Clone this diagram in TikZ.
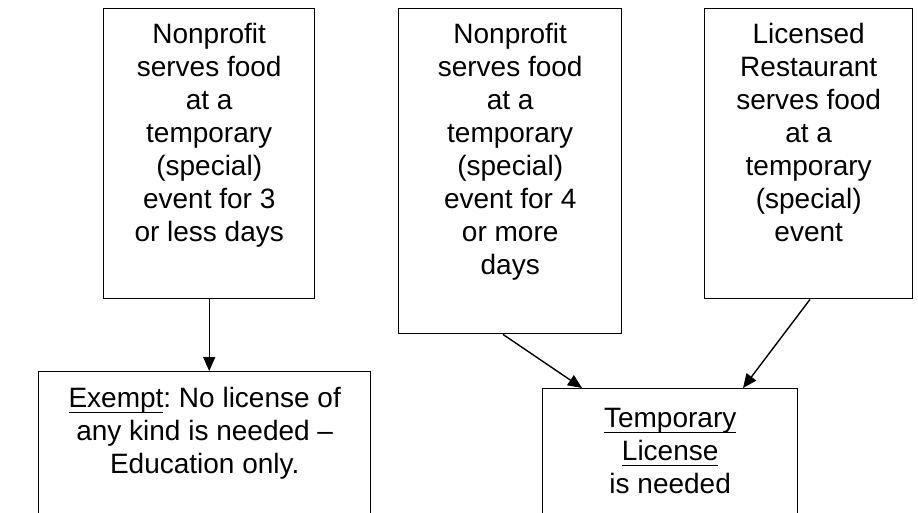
\documentclass[tikz,border=0pt]{standalone}
\usepackage{fontspec}
\setmainfont{Liberation Sans}
\usetikzlibrary{arrows.meta,calc}
\newcommand\ulx[1]{\setbox0\hbox{#1}\rlap{\rule[-6pt]{\wd0}{1.8pt}}\box0}
\frenchspacing
\begin{document}
\begin{tikzpicture}[x=1pt,y=-1pt,
  box/.style={draw, line width=1.4pt, rectangle, inner sep=0pt, anchor=north west},
  txt/.style={align=center, inner sep=0pt, anchor=north, font=\fontsize{28}{33}\selectfont},
  arr/.style={line width=1.4pt, -{Triangle[length=14pt,width=12pt]}}]
\useasboundingbox (0,0) rectangle (918,512);
\clip (0,0) rectangle (918,512);
\node[box, minimum width=211pt, minimum height=290pt] (b1) at (103,8) {};
\node[box, minimum width=223pt, minimum height=325pt] (b2) at (398,8) {};
\node[box, minimum width=208pt, minimum height=290pt] (b3) at (704,8) {};
\node[box, minimum width=332pt, minimum height=160pt] (ex) at (38,371) {};
\node[box, minimum width=255pt, minimum height=140pt] (tp) at (542,388) {};
\node[txt] (t1) at ($(b1.north)+(0,15)$) {Nonprofit\\serves food\\at a\\temporary\\(special)\\event for 3\\or less days};
\node[txt] (t2) at ($(b2.north)+(0,15)$) {Nonprofit\\serves food\\at a\\temporary\\(special)\\event for 4\\or more\\days};
\node[txt] (t3) at ($(b3.north)+(0,15)$) {Licensed\\Restaurant\\serves food\\at a\\temporary\\(special)\\event};
\node[txt] (t4) at ($(ex.north)+(0,16)$) {\ulx{Exempt}: No license of\\any kind is needed –\\Education only.};
\node[txt] (t5) at ($(tp.north)+(0,20)$) {\ulx{Temporary}\\\ulx{License}\\is needed};
\draw[arr] (b1.south) -- (ex.north -| b1.south);
\draw[arr] ($(b2.south west)+(105,0)$) -- ($(tp.north west)+(40,0)$);
\draw[arr] ($(b3.south west)+(106,0)$) -- ($(tp.north west)+(201,0)$);
\end{tikzpicture}
\end{document}
